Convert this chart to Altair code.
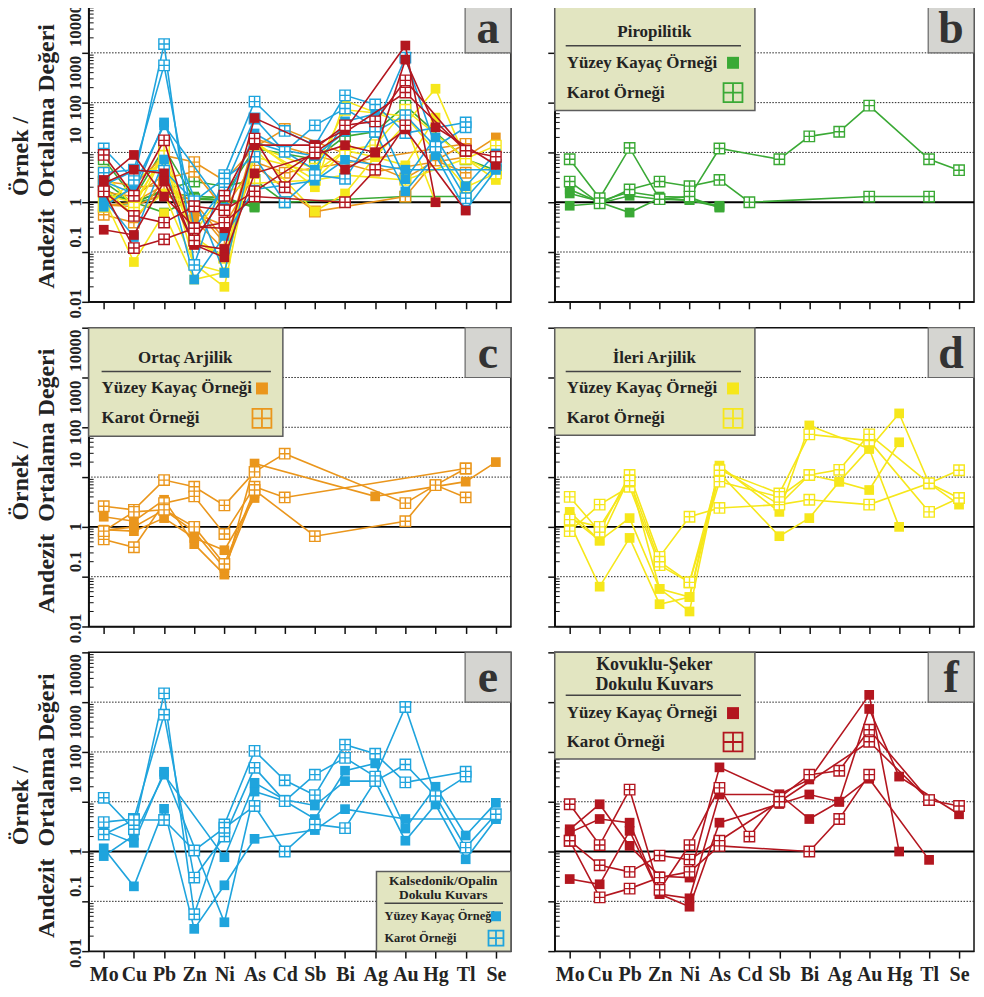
import altair as alt
import pandas as pd

N = None
ELEMENTS = ["Mo", "Cu", "Pb", "Zn", "Ni", "As", "Cd", "Sb", "Bi", "Ag", "Au", "Hg", "Tl", "Se"]
Y_TICKS = [0.01, 0.1, 1, 10, 100, 1000, 10000]
Y_TICK_LABELS = ["0.01", "0.1", "1", "10", "100", "1000", "10000"]
GRID_DOTTED = [0.1, 10, 100, 1000]
GRID_SOLID = [1]
MINOR_TICKS = [m * 10.0 ** k for k in range(-2, 4) for m in range(2, 10)]

GROUPS = ["Piropilitik", "Ortaç Arjilik", "İleri Arjilik",
          "Kalsedonik/Opalin Dokulu Kuvars", "Kovuklu-Şeker Dokulu Kuvars"]
COLORS = ["#3aa935", "#ea961c", "#f6e71b", "#1fa4dd", "#b3161f"]
LEGEND_ROWS = ["Yüzey Kayaç Örneği", "Karot Örneği"]
Y_TITLE_LINES = ["Örnek /", "Andezit\u00a0 Ortalama Değeri"]

# values: Mo Cu Pb Zn Ni As Cd Sb Bi Ag Au Hg Tl Se
PIRO_SURF = [
    [1.8, 1.0, 0.62, 1.2, 1.1, 0.8, N, N, N, N, N, N, N, N],
    [0.85, 0.95, 1.35, 1.15, 1.1, 0.85, N, N, N, N, N, N, N, N],
    [1.5, 1.05, 1.6, 1.3, 1.25, 0.78, N, N, N, N, N, N, N, N],
]
PIRO_CORE = [
    [7.3, 1.2, 12.3, 1.15, 1.3, 12.0, N, 7.3, 21.0, 26.0, 87.0, N, 7.3, 4.4],
    [2.6, 0.95, 1.8, 2.6, 2.1, 2.8, 1.0, N, N, N, 1.3, N, 1.3, N],
]
ORTAC_SURF = [
    [1.6, 1.3, 3.5, 0.45, 0.11, 18.7, N, N, N, 4.1, N, N, 8.1, 20.0],
    [0.88, 0.82, 1.5, 0.6, 0.34, 3.8, N, N, N, N, N, N, N, N],
    [0.85, 1.0, 2.2, 0.8, 0.15, 4.7, N, N, N, N, N, N, N, N],
]
ORTAC_CORE = [
    [2.6, 2.2, 8.7, 6.4, 2.7, 12.7, 29.5, N, N, N, 3.0, 6.9, 14.9, N],
    [0.56, 0.39, 3.0, 4.1, 0.72, 6.4, 3.9, N, N, N, N, N, 14.9, N],
    [0.82, 2.0, 2.2, 1.0, 0.18, 5.5, N, 0.65, N, N, 1.3, 6.9, 3.9, N],
]
ILERI_SURF = [
    [2.0, 0.53, 10.0, 0.057, 0.039, 17.0, N, 2.0, 109.0, N, 37.0, 190.0, 7.5, 2.8],
    [1.2, 0.063, 0.6, 0.028, 0.039, 12.0, N, 0.65, 1.5, 8.1, 5.5, 50.0, N, N],
    [1.6, 0.53, 1.5, 0.057, 0.02, 15.0, N, 2.8, 11.0, 8.1, 37.0, 1.0, N, N],
]
ILERI_CORE = [
    [4.0, 0.8, 11.0, 0.25, 1.6, 2.4, N, 2.8, 3.5, N, 2.8, N, 7.5, 13.7],
    [0.82, 2.8, 6.4, 0.17, 0.077, 13.7, N, 4.7, 72.0, N, 54.0, N, 2.0, 3.8],
    [1.4, 1.0, 8.5, 0.2, 0.077, 8.1, N, 4.0, 11.0, 14.0, 72.0, N, 7.5, 3.8],
]
KALS_SURF = [
    [1.16, 0.2, 7.2, 0.028, 0.21, 1.8, N, 2.7, 7.1, N, 4.5, N, N, 4.5],
    [2.6, 1.5, 40.0, N, 0.038, 16.0, 10.3, 4.5, 42.0, 59.0, 2.9, 20.0, 2.1, 9.5],
    [0.81, 2.1, 35.0, N, 0.77, 24.0, 11.0, 8.4, 26.0, 26.0, 1.65, 8.8, 0.7, 4.5],
]
KALS_CORE = [
    [12.0, 2.8, 1500.0, 0.055, 3.5, 105.0, 27.0, 13.6, 140.0, 92.0, 24.5, N, 40.0, N],
    [3.9, 4.5, 560.0, 0.3, 2.0, 48.0, 10.3, 35.0, 76.0, 32.0, 800.0, 13.0, 32.0, N],
    [2.2, 4.3, 4.3, 1.05, 3.0, 8.2, 1.0, 3.5, 2.95, 26.0, 56.0, 13.0, 1.2, 5.6],
]
KOVUK_SURF = [
    [2.8, 8.9, 1.3, 0.32, 0.3, 49.0, N, 14.0, 28.0, N, 1400.0, 1.0, N, N],
    [2.4, 4.5, 3.8, 0.14, 0.115, 14.0, N, 14.0, 4.5, 10.0, 730.0, 32.0, N, 5.6],
    [0.28, 0.22, 2.6, 0.14, 0.078, 3.8, N, 9.0, 14.0, 10.0, 29.0, N, 0.68, N],
]
KOVUK_CORE = [
    [8.9, 1.35, 17.5, 0.17, 1.35, 19.0, 2.0, 12.0, 35.0, 42.0, 280.0, N, 10.8, 8.2],
    [1.65, 0.53, 0.39, 0.83, 0.69, 1.65, N, 10.0, N, N, 160.0, N, 10.8, N],
    [1.65, 0.12, 0.18, 0.3, 0.39, 1.3, N, N, 1.0, 4.5, 35.0, N, N, N],
]

SOURCES = [
    (0, "surf", PIRO_SURF), (0, "core", PIRO_CORE),
    (1, "surf", ORTAC_SURF), (1, "core", ORTAC_CORE),
    (2, "surf", ILERI_SURF), (2, "core", ILERI_CORE),
    (3, "surf", KALS_SURF), (3, "core", KALS_CORE),
    (4, "surf", KOVUK_SURF), (4, "core", KOVUK_CORE),
]
rows = []
for g, kind, samples in SOURCES:
    for i, s in enumerate(samples):
        for j, v in enumerate(s):
            if v is not None:
                rows.append({"grp": g, "kind": kind, "sid": f"{g}-{kind}-{i}",
                             "el": ELEMENTS[j], "idx": j, "val": v})
df = pd.DataFrame(rows)
grid_df = pd.DataFrame({"v": GRID_DOTTED})
unity_df = pd.DataFrame({"v": GRID_SOLID})
minor_df = pd.DataFrame({"v": MINOR_TICKS})
one = pd.DataFrame({"k": [0]})

SERIF = "Liberation Serif"
TXT = "#232323"
BEIGE = "#e2e5c1"
OPEN = "M-1,-1H1V1H-1Z M0,-1V1 M-1,0H1"
W_L, W_R, H = 424, 421, 300
# downward shift (screen pixels) of each rotated tick label relative to its tick
LABEL_SHIFT = [2, -15, 0, -17, 5, 20, 23]

XSCALE = alt.Scale(domain=ELEMENTS, type="point", padding=0.5)
YSCALE = alt.Scale(type="log", domain=[0.01, 10000], nice=False)

Y_AXIS = alt.Axis(values=Y_TICKS, grid=False, tickSize=7, tickWidth=1.5, tickColor="#111",
                  domainColor="#111", domainWidth=1.5, labels=False, title=None)


def x_axis(bottom):
    kw = dict(grid=False, tickSize=7, tickWidth=1.5, tickColor="#111", domainColor="#111",
              domainWidth=1.5, labelAngle=0, title=None)
    if bottom:
        kw.update(labels=True, labelFont=SERIF, labelFontSize=20, labelFontWeight="bold",
                  labelColor=TXT, labelPadding=6, labelOverlap=False)
    else:
        kw.update(labels=False)
    return alt.Axis(**kw)


def Y(f):
    return alt.Y(f"{f}:Q", scale=YSCALE, axis=Y_AXIS)


def legend_layers(L, color):
    out = []
    bx = L["box"]
    out.append(alt.Chart(one).mark_rect(fill=BEIGE, stroke="#5c5c5c", strokeWidth=1.5).encode(
        x=alt.value(bx[0]), x2=alt.value(bx[1]), y=alt.value(bx[2]), y2=alt.value(bx[3])))
    for t, ty in zip(L["title"], L["title_y"]):
        out.append(alt.Chart(one).mark_text(text=t, font=SERIF, fontSize=L["tsize"], fontWeight="bold",
                                            color=TXT, align="center", baseline="middle").encode(
            x=alt.value(L["title_x"]), y=alt.value(ty)))
    ul = L["ul"]
    out.append(alt.Chart(one).mark_rule(color="#444", strokeWidth=1.5).encode(
        x=alt.value(ul[0]), x2=alt.value(ul[1]), y=alt.value(ul[2])))
    for t, ry in zip(LEGEND_ROWS, L["rows"]):
        out.append(alt.Chart(one).mark_text(text=t, font=SERIF, fontSize=L["rsize"], fontWeight="bold",
                                            color=TXT, align="left", baseline="middle").encode(
            x=alt.value(L["text_x"]), y=alt.value(ry)))
    out.append(alt.Chart(one).mark_point(shape="square", filled=True, color=color, size=L["fs"] ** 2,
                                         opacity=1).encode(x=alt.value(L["sx"]), y=alt.value(L["rows"][0])))
    out.append(alt.Chart(one).mark_point(shape=OPEN, filled=False, stroke=color, strokeWidth=1.8,
                                         size=L["os"] ** 2, opacity=1).encode(
        x=alt.value(L["sx"]), y=alt.value(L["rows"][1])))
    return out


def y_label_layers():
    out = []
    for v, lab, sh in zip(Y_TICKS, Y_TICK_LABELS, LABEL_SHIFT):
        # with angle 270 the text frame's x axis points up on screen
        out.append(alt.Chart(pd.DataFrame({"v": [v]})).mark_text(
            text=lab, angle=270, dx=-sh, font=SERIF, fontSize=17, fontWeight="bold", color=TXT,
            align="center", baseline="middle").encode(y=Y("v"), x=alt.value(-13)))
    for t, tx in zip(Y_TITLE_LINES, [-68, -42]):
        out.append(alt.Chart(one).mark_text(
            text=t, angle=270, font=SERIF, fontSize=24, fontWeight="bold", color=TXT,
            align="center", baseline="middle").encode(y=alt.value(H / 2 + 4), x=alt.value(tx)))
    return out


def panel(gids, width, left, bottom, letter, legend=None, legend_color=None):
    X = alt.X("el:N", sort=ELEMENTS, scale=XSCALE, axis=x_axis(bottom))
    layers = [
        alt.Chart(grid_df).mark_rule(color="#222", strokeWidth=1, strokeDash=[1.5, 1.5]).encode(y=Y("v")),
        alt.Chart(unity_df).mark_rule(color="#000", strokeWidth=2).encode(y=Y("v")),
        alt.Chart(minor_df).mark_rule(color="#111", strokeWidth=1).encode(
            y=Y("v"), x=alt.value(0), x2=alt.value(5)),
    ]
    for g in gids:
        d = df[df.grp == g]
        c = COLORS[g]
        layers.append(alt.Chart(d).mark_line(color=c, strokeWidth=1.6).encode(
            x=X, y=Y("val"), detail="sid:N", order="idx:Q"))
        layers.append(alt.Chart(d[d.kind == "surf"]).mark_point(
            shape="square", filled=True, color=c, size=95, opacity=1).encode(x=X, y=Y("val")))
        layers.append(alt.Chart(d[d.kind == "core"]).mark_point(
            shape=OPEN, filled=False, fill="white", stroke=c, strokeWidth=1.4, size=110,
            opacity=1).encode(x=X, y=Y("val")))
    layers.append(alt.Chart(one).mark_rect(fill="#d5d5d1", stroke="#666", strokeWidth=1.2).encode(
        x=alt.value(width - 46), x2=alt.value(width), y=alt.value(0), y2=alt.value(50)))
    layers.append(alt.Chart(one).mark_text(text=letter, font=SERIF, fontSize=46, fontWeight="bold",
                                           color="#333", align="center", baseline="middle").encode(
        x=alt.value(width - 23), y=alt.value(26)))
    if legend is not None:
        layers += legend_layers(legend, legend_color)
    if left:
        layers += y_label_layers()
    return alt.layer(*layers).properties(width=width, height=H)


LEG_B = dict(box=(0, 201, 0, 108), title=["Piropilitik"], title_y=[29], title_x=100, tsize=17,
             ul=(11, 187, 43), rows=(60, 90), text_x=12, rsize=17, sx=179, fs=12, os=19)
LEG_C = dict(box=(0, 195, 0, 109), title=["Ortaç Arjilik"], title_y=[30], title_x=97, tsize=17,
             ul=(13, 183, 44), rows=(61, 91), text_x=13, rsize=17, sx=174, fs=12, os=19)
LEG_D = dict(box=(0, 201, 0, 108), title=["İleri Arjilik"], title_y=[30], title_x=100, tsize=17,
             ul=(11, 187, 44), rows=(61, 91), text_x=12, rsize=17, sx=179, fs=12, os=19)
LEG_E = dict(box=(289, 424, 220, 300), title=["Kalsedonik/Opalin", "Dokulu Kuvars"],
             title_y=[230, 244], title_x=356, tsize=13.5, ul=(297, 416, 252), rows=(265, 287),
             text_x=297, rsize=12.5, sx=409, fs=10, os=15)
LEG_F = dict(box=(0, 201, 0, 107), title=["Kovuklu-Şeker", "Dokulu Kuvars"], title_y=[13, 33],
             title_x=100, tsize=18, ul=(11, 187, 43), rows=(61, 90), text_x=12, rsize=17,
             sx=179, fs=12, os=19)

pa = panel([0, 1, 2, 3, 4], W_L, True, False, "a")
pb = panel([0], W_R, False, False, "b", LEG_B, COLORS[0])
pc = panel([1], W_L, True, False, "c", LEG_C, COLORS[1])
pd_ = panel([2], W_R, False, False, "d", LEG_D, COLORS[2])
pe = panel([3], W_L, True, True, "e", LEG_E, COLORS[3])
pf = panel([4], W_R, False, True, "f", LEG_F, COLORS[4])

chart = alt.vconcat(
    alt.hconcat(pa, pb, spacing=33),
    alt.hconcat(pc, pd_, spacing=33),
    alt.hconcat(pe, pf, spacing=33),
    spacing=6,
).properties(padding={"left": 0, "top": -9, "right": 0, "bottom": 0}).configure_view(
    stroke="#111", strokeWidth=1.5)

chart.save("out.html", embed_options={"renderer": "svg", "actions": False})
